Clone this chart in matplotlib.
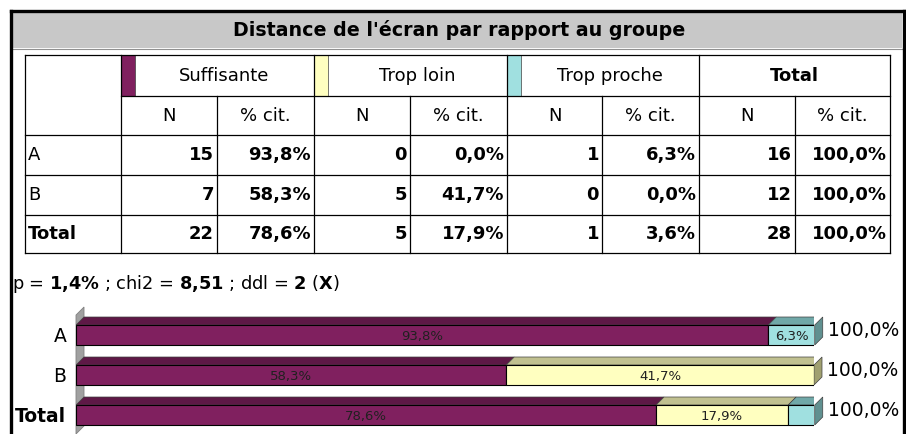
import matplotlib
matplotlib.use("Agg")
import matplotlib.pyplot as plt
from matplotlib.patches import Rectangle, Polygon

plt.rcParams["font.family"] = ["DejaVu Sans"]
plt.rcParams["mathtext.fontset"] = "dejavusans"

# ---- data ----
title = "Distance de l'écran par rapport au groupe"
categories = ["Suffisante", "Trop loin", "Trop proche"]
groups = ["A", "B", "Total"]
counts_suff = [15, 7, 22]
counts_loin = [0, 5, 5]
counts_proche = [1, 0, 1]
pct_suff = [93.8, 58.3, 78.6]
pct_loin = [0.0, 41.7, 17.9]
pct_proche = [6.3, 0.0, 3.6]
counts_total = [16, 12, 28]
pct_total = [100.0, 100.0, 100.0]
p_value = "1,4"
chi2 = "8,51"
ddl = "2"

front_colors = ["#80205f", "#ffffc0", "#a0e0e0"]
top_colors = ["#5e1846", "#c0c090", "#70a8a8"]
side_colors = ["#4a1038", "#a0a070", "#609090"]


def fr(v, dec=1):
    return f"{v:.{dec}f}".replace(".", ",")


W, H = 906, 434
fig = plt.figure(figsize=(W / 100, H / 100), dpi=100)
ax = fig.add_axes([0, 0, 1, 1])
ax.set_xlim(0, W)
ax.set_ylim(H, 0)
ax.axis("off")

# outer frame + title band
ax.add_patch(Rectangle((12, 12), 890, 36, facecolor="#c8c8c8", edgecolor="none"))
ax.plot([12, 902], [48.5, 48.5], color="#909090", lw=0.8)
ax.plot([10.5, 10.5], [10.5, 440], color="black", lw=2.4)
ax.plot([10.5, 903.5], [10.5, 10.5], color="black", lw=2.4)
ax.plot([903.5, 903.5], [10.5, 440], color="black", lw=2.4)
ax.text(459, 30, title, ha="center", va="center", fontsize=13.7, fontweight="bold")

# ---- table ----
col_edges = [25, 121, 217, 314, 410, 507, 602, 699, 795, 890]
row_edges = [55, 96, 135, 175, 215, 253]
lw = 0.9

for y in [55, 135, 175, 215, 253]:
    ax.plot([25, 890], [y, y], color="black", lw=lw)
ax.plot([121, 890], [96, 96], color="black", lw=lw)
for x in [25, 121, 314, 507, 699, 890]:
    ax.plot([x, x], [55, 253], color="black", lw=lw)
for x in [217, 410, 602, 795]:
    ax.plot([x, x], [96, 253], color="black", lw=lw)

fs = 13
header_names = categories + ["Total"]
for i, name in enumerate(header_names):
    x0, x1 = col_edges[1 + 2 * i], col_edges[3 + 2 * i]
    if i < 3:
        ax.add_patch(Rectangle((x0, 55), 14, 41, facecolor=front_colors[i],
                               edgecolor="#404040", lw=0.5))
        cx = (x0 + 14 + x1) / 2
        ax.text(cx, 76, name, ha="center", va="center", fontsize=fs)
    else:
        ax.text((x0 + x1) / 2, 76, name, ha="center", va="center",
                fontsize=fs, fontweight="bold")
    ax.text((x0 + col_edges[2 + 2 * i]) / 2, 116, "N", ha="center",
            va="center", fontsize=fs)
    ax.text((col_edges[2 + 2 * i] + x1) / 2, 116, "% cit.", ha="center",
            va="center", fontsize=fs)

cols = [counts_suff, pct_suff, counts_loin, pct_loin,
        counts_proche, pct_proche, counts_total, pct_total]
for r, g in enumerate(groups):
    yc = (row_edges[r + 2] + row_edges[r + 3]) / 2
    ax.text(28, yc, g, ha="left", va="center", fontsize=fs,
            fontweight="bold" if g == "Total" else "normal")
    for c, vals in enumerate(cols):
        v = vals[r]
        s = str(v) if c % 2 == 0 else fr(v) + "%"
        ax.text(col_edges[c + 2] - 3, yc, s, ha="right", va="center",
                fontsize=fs, fontweight="bold")

# stats line
stats = (r"p = $\mathbf{" + p_value.replace(",", "{,}") + r"\%}$ ; chi2 = $\mathbf{"
         + chi2.replace(",", "{,}") + r"}$ ; ddl = $\mathbf{" + ddl + r"}$ ($\mathbf{X}$)")
ax.text(12, 284, stats, ha="left", va="center", fontsize=12.8)

# ---- 3D-looking stacked bars ----
bx0, bx1 = 76, 814
ax2 = fig.add_axes([bx0 / W, 0, (bx1 - bx0) / W, 139 / H])
ax2.set_xlim(0, 100)
ax2.set_ylim(2.475, -1.0)
for s in ax2.spines.values():
    s.set_visible(False)
ax2.set_xticks([])
ax2.patch.set_alpha(0)

dx = 8 * 100 / (bx1 - bx0)
dy = 0.2
h = 0.5
ypos = list(range(len(groups)))

# back wall
ax2.add_patch(Polygon([(0, -0.5), (dx, -0.5 - dy), (dx, 2.475 - dy), (0, 2.475)],
                      closed=True, facecolor="#a0a0a0", edgecolor="#808080",
                      lw=0.6, zorder=1, clip_on=False))

series = [pct_suff, pct_loin, pct_proche]
lefts = [0.0] * len(groups)
for k, vals in enumerate(series):
    ax2.barh(ypos, vals, left=lefts, height=h, color=front_colors[k],
             edgecolor="black", lw=0.8, zorder=3)
    for i, v in enumerate(vals):
        if v <= 0:
            continue
        l = lefts[i]
        yt = ypos[i] - h / 2
        ax2.add_patch(Polygon([(l, yt), (l + v, yt), (l + v + dx, yt - dy),
                               (l + dx, yt - dy)], closed=True,
                              facecolor=top_colors[k], edgecolor="#404040",
                              lw=0.5, zorder=2))
        if v >= 5:
            ax2.text(l + v / 2, ypos[i] + 0.03, fr(v) + "%", ha="center",
                     va="center", fontsize=9.5, color="#202020", zorder=4)
    lefts = [a + b for a, b in zip(lefts, vals)]

for i, g in enumerate(groups):
    last = max(k for k in range(3) if series[k][i] > 0)
    R = lefts[i]
    yt = ypos[i] - h / 2
    yb = ypos[i] + h / 2
    ax2.add_patch(Polygon([(R, yt), (R + dx, yt - dy), (R + dx, yb - dy), (R, yb)],
                          closed=True, facecolor=side_colors[last],
                          edgecolor="#404040", lw=0.5, zorder=2, clip_on=False))
    ax2.text(R + dx + 0.7, ypos[i] - 0.1, fr(pct_total[i]) + "%", ha="left",
             va="center", fontsize=13.5, clip_on=False)

ax2.set_yticks(ypos)
ax2.set_yticklabels(groups, fontsize=13.5)
ax2.get_yticklabels()[2].set_fontweight("bold")
ax2.tick_params(axis="y", length=0, pad=7)

fig.savefig("out.png", dpi=100)
